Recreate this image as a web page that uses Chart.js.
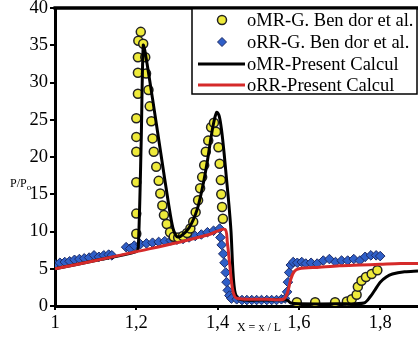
<!DOCTYPE html>
<html lang="en">
<head>
<meta charset="UTF-8">
<title>Index</title>
<style>
  html, body { margin: 0; padding: 0; background: #fff; }
  #chart { display: block; }
</style>
</head>
<body>
<canvas id="chart" width="418" height="340"></canvas>
<script src="https://cdn.jsdelivr.net/npm/chart.js@4.4.1/dist/chart.umd.min.js"></script>
<script>
    // axis ticks
    const xTicks = [1, 1.2, 1.4, 1.6, 1.8];
    const yTicks = [0, 5, 10, 15, 20, 25, 30, 35, 40];

    const seriesNames = ["oMR-G. Ben dor et al.", "oRR-G. Ben dor et al.", "oMR-Present Calcul", "oRR-Present Calcul"];

    // oMR experiment (yellow circles)
    const mrExpX = [1.211, 1.205, 1.204, 1.204, 1.204, 1.200, 1.200, 1.200, 1.200, 1.200, 1.200,
        1.217, 1.222, 1.224, 1.230, 1.233, 1.237, 1.240, 1.243, 1.249, 1.255, 1.259, 1.264, 1.268, 1.275, 1.283, 1.292,
        1.303, 1.315, 1.325, 1.333, 1.340, 1.346, 1.352, 1.357, 1.362, 1.367, 1.371, 1.377, 1.384, 1.391, 1.396,
        1.402, 1.405, 1.408, 1.409, 1.411, 1.413,
        1.595, 1.640, 1.689, 1.718, 1.730, 1.742, 1.745, 1.754, 1.765, 1.779, 1.793];
    const mrExpP = [36.8, 35.6, 33.4, 31.3, 28.5, 25.2, 22.7, 20.7, 16.6, 12.4, 9.7,
        35.2, 33.4, 31.2, 29.0, 26.8, 24.8, 22.5, 20.7, 18.7, 16.8, 15.1, 13.5, 12.2, 11.0, 9.9, 9.3,
        9.2, 9.4, 9.8, 10.4, 11.3, 12.6, 14.2, 15.8, 17.3, 18.9, 20.7, 22.2, 24.0, 24.6, 23.4,
        21.3, 19.1, 16.9, 15.0, 13.3, 11.7,
        0.5, 0.5, 0.5, 0.6, 0.9, 1.5, 2.6, 3.4, 3.9, 4.3, 4.8];

    // oRR experiment (blue diamonds)
    const rrExpX = [1.000, 1.012, 1.024, 1.036, 1.048, 1.060, 1.072, 1.084, 1.096, 1.108, 1.120, 1.132, 1.140,
        1.175, 1.185, 1.195, 1.210, 1.225, 1.240, 1.255, 1.270, 1.285, 1.300, 1.315, 1.330, 1.345, 1.360, 1.375, 1.390, 1.405,
        1.407, 1.410, 1.414, 1.417, 1.420, 1.422, 1.425, 1.429, 1.434,
        1.447, 1.460, 1.472, 1.484, 1.496, 1.508, 1.521, 1.533, 1.545, 1.557, 1.566,
        1.571, 1.573, 1.576, 1.580, 1.586, 1.596, 1.607, 1.617, 1.630, 1.645, 1.660, 1.675, 1.690, 1.705,
        1.720, 1.735, 1.750, 1.763, 1.777, 1.790, 1.800];
    const rrExpP = [5.6, 5.8, 5.9, 6.0, 6.2, 6.3, 6.4, 6.5, 6.8, 6.6, 6.8, 6.9, 6.8,
        7.9, 7.7, 8.1, 8.3, 8.4, 8.5, 8.6, 8.7, 8.8, 8.9, 9.0, 9.2, 9.4, 9.6, 9.9, 10.1, 10.4,
        9.2, 8.2, 7.0, 5.8, 4.5, 3.2, 2.1, 1.4, 1.0,
        0.9, 0.8, 0.8, 0.8, 0.8, 0.8, 0.8, 0.8, 0.8, 0.9, 1.0,
        1.9, 3.2, 4.5, 5.5, 5.9, 5.8, 5.9, 5.7, 5.8, 5.7, 6.1, 6.3, 5.9, 6.1,
        6.1, 6.3, 6.1, 6.6, 6.8, 6.8, 6.7];

    // oMR present calculation (black line)
    const mrCalcX = [1.00, 1.10, 1.20, 1.205, 1.212, 1.217, 1.222, 1.24, 1.26, 1.28, 1.29, 1.30, 1.31, 1.33, 1.35,
        1.365, 1.375, 1.385, 1.392, 1.398, 1.404, 1.41, 1.416, 1.422, 1.428, 1.433, 1.44, 1.45, 1.50, 1.57,
        1.58, 1.60, 1.70, 1.76, 1.775, 1.79, 1.80, 1.815, 1.83, 1.86, 1.893];
    const mrCalcP = [5.0, 6.1, 7.3, 8.0, 22.0, 35.0, 34.0, 27.8, 20.6, 13.5, 10.5, 9.3, 9.4, 10.5, 13.0,
        16.5, 19.5, 23.0, 25.0, 26.0, 25.5, 23.5, 20.5, 17.0, 13.5, 10.0, 3.0, 1.0, 0.8, 0.8,
        0.4, 0.3, 0.3, 0.4, 1.2, 2.4, 3.2, 3.9, 4.3, 4.6, 4.7];

    // oRR present calculation (red line)
    const rrCalcX = [1.00, 1.10, 1.20, 1.30, 1.38, 1.418, 1.424, 1.430, 1.436, 1.442, 1.45, 1.48, 1.52, 1.562,
        1.572, 1.580, 1.588, 1.600, 1.65, 1.70, 1.75, 1.80, 1.85, 1.893];
    const rrCalcP = [5.0, 6.1, 7.3, 8.5, 9.6, 10.3, 8.5, 5.5, 2.5, 1.3, 1.0, 0.9, 0.9, 0.9,
        1.8, 3.6, 4.6, 5.0, 5.2, 5.4, 5.5, 5.6, 5.7, 5.7];

    function pts(xs, ys) {
        return xs.map((x, i) => ({x: x, y: ys[i]}));
    }

    const serif = "'Liberation Serif', 'DejaVu Serif', serif";

    const frame = {
        id: 'frame',
        afterDraw(chart) {
            const ctx = chart.ctx;
            const a = chart.chartArea;
            ctx.save();
            // top border of the plot
            ctx.strokeStyle = '#000';
            ctx.lineWidth = 3;
            ctx.beginPath();
            ctx.moveTo(a.left - 1.5, a.top);
            ctx.lineTo(chart.width, a.top);
            ctx.stroke();

            // axis titles
            ctx.fillStyle = '#000';
            ctx.textBaseline = 'alphabetic';
            ctx.textAlign = 'left';
            ctx.font = "12px " + serif;
            ctx.fillText("P/P", 10, 187);
            let w = ctx.measureText("P/P").width;
            ctx.font = "9px " + serif;
            ctx.fillText("o", 10 + w, 190);
            ctx.font = "12px " + serif;
            ctx.textAlign = 'center';
            ctx.fillText("X = x / L", 259, 331);

            // legend box
            const bx = 192, by = a.top, bw = chart.width - 1 - bx, bh = 86;
            ctx.fillStyle = '#fff';
            ctx.fillRect(bx, by, bw, bh);
            ctx.lineWidth = 1.5;
            ctx.strokeStyle = '#000';
            ctx.strokeRect(bx, by, bw, bh);
            // redraw top border over box edge
            ctx.lineWidth = 3;
            ctx.beginPath();
            ctx.moveTo(a.left - 1.5, a.top);
            ctx.lineTo(chart.width, a.top);
            ctx.stroke();

            const rows = [20, 42, 64, 85];
            const sx = 222;
            ctx.font = "18.5px " + serif;
            ctx.textAlign = 'left';
            ctx.textBaseline = 'middle';
            rows.forEach((ry, i) => {
                const ds = chart.data.datasets[i];
                if (i === 0) {
                    ctx.beginPath();
                    ctx.arc(sx, ry, 4.5, 0, Math.PI * 2);
                    ctx.fillStyle = ds.pointBackgroundColor;
                    ctx.fill();
                    ctx.lineWidth = 1.5;
                    ctx.strokeStyle = ds.pointBorderColor;
                    ctx.stroke();
                } else if (i === 1) {
                    ctx.beginPath();
                    ctx.moveTo(sx, ry - 4.5);
                    ctx.lineTo(sx + 4.5, ry);
                    ctx.lineTo(sx, ry + 4.5);
                    ctx.lineTo(sx - 4.5, ry);
                    ctx.closePath();
                    ctx.fillStyle = ds.pointBackgroundColor;
                    ctx.fill();
                    ctx.lineWidth = 1;
                    ctx.strokeStyle = ds.pointBorderColor;
                    ctx.stroke();
                } else {
                    ctx.beginPath();
                    ctx.moveTo(198, ry);
                    ctx.lineTo(245, ry);
                    ctx.lineWidth = 3;
                    ctx.strokeStyle = ds.borderColor;
                    ctx.stroke();
                }
                ctx.fillStyle = '#000';
                ctx.fillText(seriesNames[i], 247, ry + 1);
            });
            ctx.restore();
        }
    };

    const ctx = document.getElementById("chart").getContext("2d");
    const myChart = new Chart(ctx, {
        type: 'scatter',
        data: {
            datasets: [
                {
                    label: seriesNames[0],
                    data: pts(mrExpX, mrExpP),
                    pointStyle: 'circle',
                    pointRadius: 4.5,
                    pointBackgroundColor: '#eeea3a',
                    pointBorderColor: '#222',
                    pointBorderWidth: 1.5,
                    showLine: false,
                    order: 3
                },
                {
                    label: seriesNames[1],
                    data: pts(rrExpX, rrExpP),
                    pointStyle: 'rectRot',
                    pointRadius: 4.8,
                    pointBackgroundColor: '#2f5fc8',
                    pointBorderColor: '#1d2b66',
                    pointBorderWidth: 1,
                    showLine: false,
                    order: 4
                },
                {
                    label: seriesNames[2],
                    data: pts(mrCalcX, mrCalcP),
                    showLine: true,
                    borderColor: '#000',
                    borderWidth: 3,
                    pointRadius: 0,
                    tension: 0.3,
                    order: 2
                },
                {
                    label: seriesNames[3],
                    data: pts(rrCalcX, rrCalcP),
                    showLine: true,
                    borderColor: '#d52a2a',
                    borderWidth: 3,
                    pointRadius: 0,
                    tension: 0.3,
                    order: 1
                }
            ]
        },
        options: {
            responsive: false,
            animation: false,
            devicePixelRatio: 1,
            layout: { autoPadding: false, padding: { top: 8, right: 0, left: 0, bottom: 0 } },
            plugins: {
                legend: { display: false },
                tooltip: { enabled: false }
            },
            scales: {
                x: {
                    type: 'linear',
                    min: 1,
                    max: 1.893,
                    afterBuildTicks: (s) => { s.ticks = xTicks.map(v => ({value: v})); },
                    afterFit: (s) => { s.height = 34; s.paddingLeft = 0; s.paddingRight = 0; },
                    ticks: {
                        color: '#000',
                        font: { family: serif, size: 18.5 },
                        padding: 2,
                        maxRotation: 0,
                        autoSkip: false,
                        callback: (v) => String(v).replace('.', ',')
                    },
                    grid: { drawOnChartArea: false, drawTicks: true, tickLength: 4, color: '#000', lineWidth: 2 },
                    border: { display: true, color: '#000', width: 3 }
                },
                y: {
                    min: 0,
                    max: 40,
                    afterBuildTicks: (s) => { s.ticks = yTicks.map(v => ({value: v})); },
                    afterFit: (s) => { s.width = 55; s.paddingTop = 0; s.paddingBottom = 0; },
                    ticks: {
                        color: '#000',
                        font: { family: serif, size: 18.5 },
                        padding: 2
                    },
                    grid: { drawOnChartArea: false, drawTicks: true, tickLength: 5, color: '#000', lineWidth: 2 },
                    border: { display: true, color: '#000', width: 3 }
                }
            }
        },
        plugins: [frame]
    });
</script>
</body>
</html>
